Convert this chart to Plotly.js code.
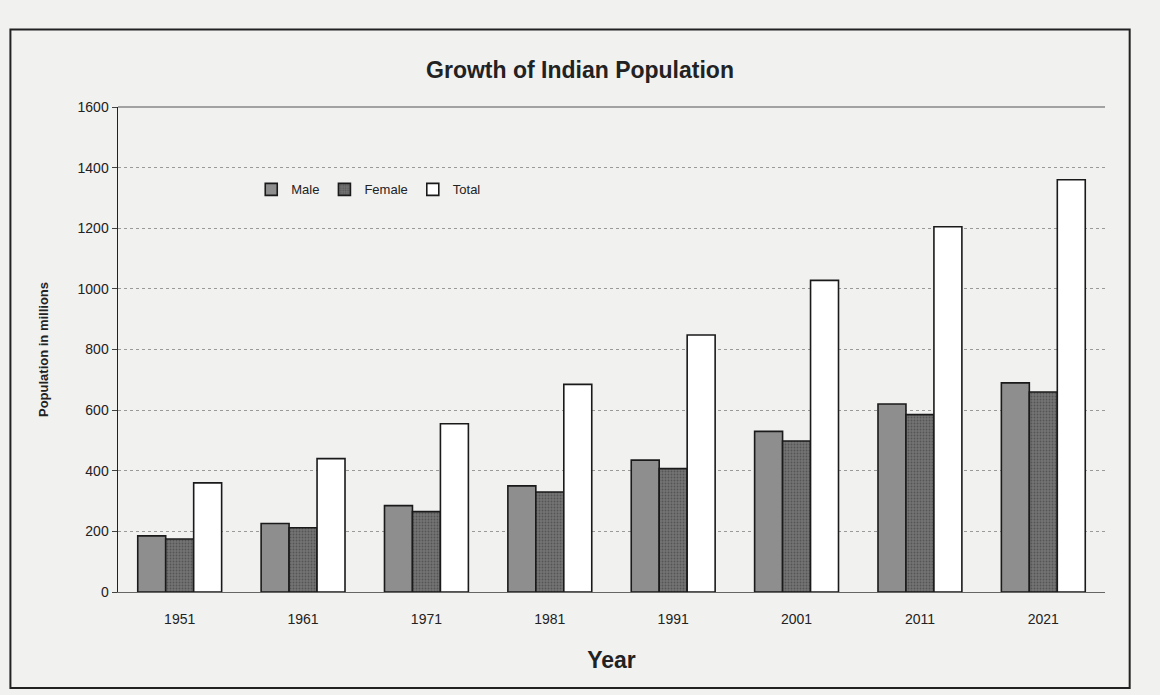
<!DOCTYPE html>
<html>
<head>
<meta charset="utf-8">
<script src="https://cdn.plot.ly/plotly-3.0.1.min.js"></script>
<style>
  html, body { margin: 0; padding: 0; background: #f1f1f0; }
  #chart { width: 1160px; height: 695px; }
</style>
</head>
<body>
<div id="chart"></div>
<script>
const years = ['1951', '1961', '1971', '1981', '1991', '2001', '2011', '2021'];
const male = [185, 226, 285, 350, 435, 530, 620, 690];
const female = [175, 212, 265, 330, 407, 498, 585, 660];
const total = [360, 440, 555, 685, 848, 1028, 1205, 1360];
const yTicks = [0, 200, 400, 600, 800, 1000, 1200, 1400, 1600];

const outline = { color: '#1a1a1a', width: 1.6 };
const traces = [
  { type: 'bar', name: 'Male', x: years, y: male,
    marker: { color: '#8e8e8e', line: outline } },
  { type: 'bar', name: 'Female', x: years, y: female,
    marker: { color: '#6f6f6f', line: outline, pattern: { shape: '.', fgcolor: '#555555', bgcolor: '#747474', size: 3, solidity: 0.3 } } },
  { type: 'bar', name: 'Total', x: years, y: total,
    marker: { color: '#ffffff', line: outline } }
];

const layout = {
  width: 1160, height: 695,
  margin: { l: 118, r: 55, t: 107, b: 103 },
  paper_bgcolor: '#f1f1f0',
  plot_bgcolor: '#f1f1f0',
  font: { family: 'Liberation Sans, Arial, sans-serif', color: '#222222', size: 14 },
  title: { text: '<b>Growth of Indian Population</b>', x: 0.5, xanchor: 'center', y: 0.9, yanchor: 'middle',
           font: { size: 23, color: '#222222' } },
  barmode: 'group',
  bargap: 0.32,
  bargroupgap: 0,
  xaxis: {
    type: 'category',
    showgrid: false,
    showline: true, linecolor: '#666666', linewidth: 1,
    ticks: 'outside', ticklen: 14, tickcolor: 'rgba(0,0,0,0)',
    tickfont: { size: 14 },
    title: { text: '<b>Year</b>', font: { size: 23 }, standoff: 26 }
  },
  yaxis: {
    range: [0, 1600],
    tickvals: yTicks,
    ticktext: yTicks.map(String),
    showgrid: true, gridcolor: '#9a9a9a', griddash: 'dot', gridwidth: 1,
    zeroline: false,
    showline: true, linecolor: '#222222', linewidth: 1.5,
    ticks: 'outside', ticklen: 5, tickcolor: '#444444',
    tickfont: { size: 14 },
    title: { text: '<b>Population in millions</b>', font: { size: 13 }, standoff: 26 }
  },
  legend: {
    orientation: 'h',
    x: 0.135, y: 0.83, xanchor: 'left', yanchor: 'middle',
    bgcolor: 'rgba(0,0,0,0)',
    font: { size: 13 },
    itemwidth: 30,
    traceorder: 'normal'
  },
  shapes: [
    { type: 'rect', xref: 'paper', yref: 'paper',
      x0: -0.109, x1: 1.025, y0: -0.198, y1: 1.16,
      line: { color: '#222222', width: 2 }, fillcolor: 'rgba(0,0,0,0)', layer: 'below' },
    { type: 'line', xref: 'paper', yref: 'paper', x0: 0, x1: 1, y0: 1, y1: 1,
      line: { color: '#555555', width: 1.2 }, layer: 'below' }
  ]
};

Plotly.newPlot('chart', traces, layout, { displayModeBar: false, staticPlot: true });
</script>
</body>
</html>
